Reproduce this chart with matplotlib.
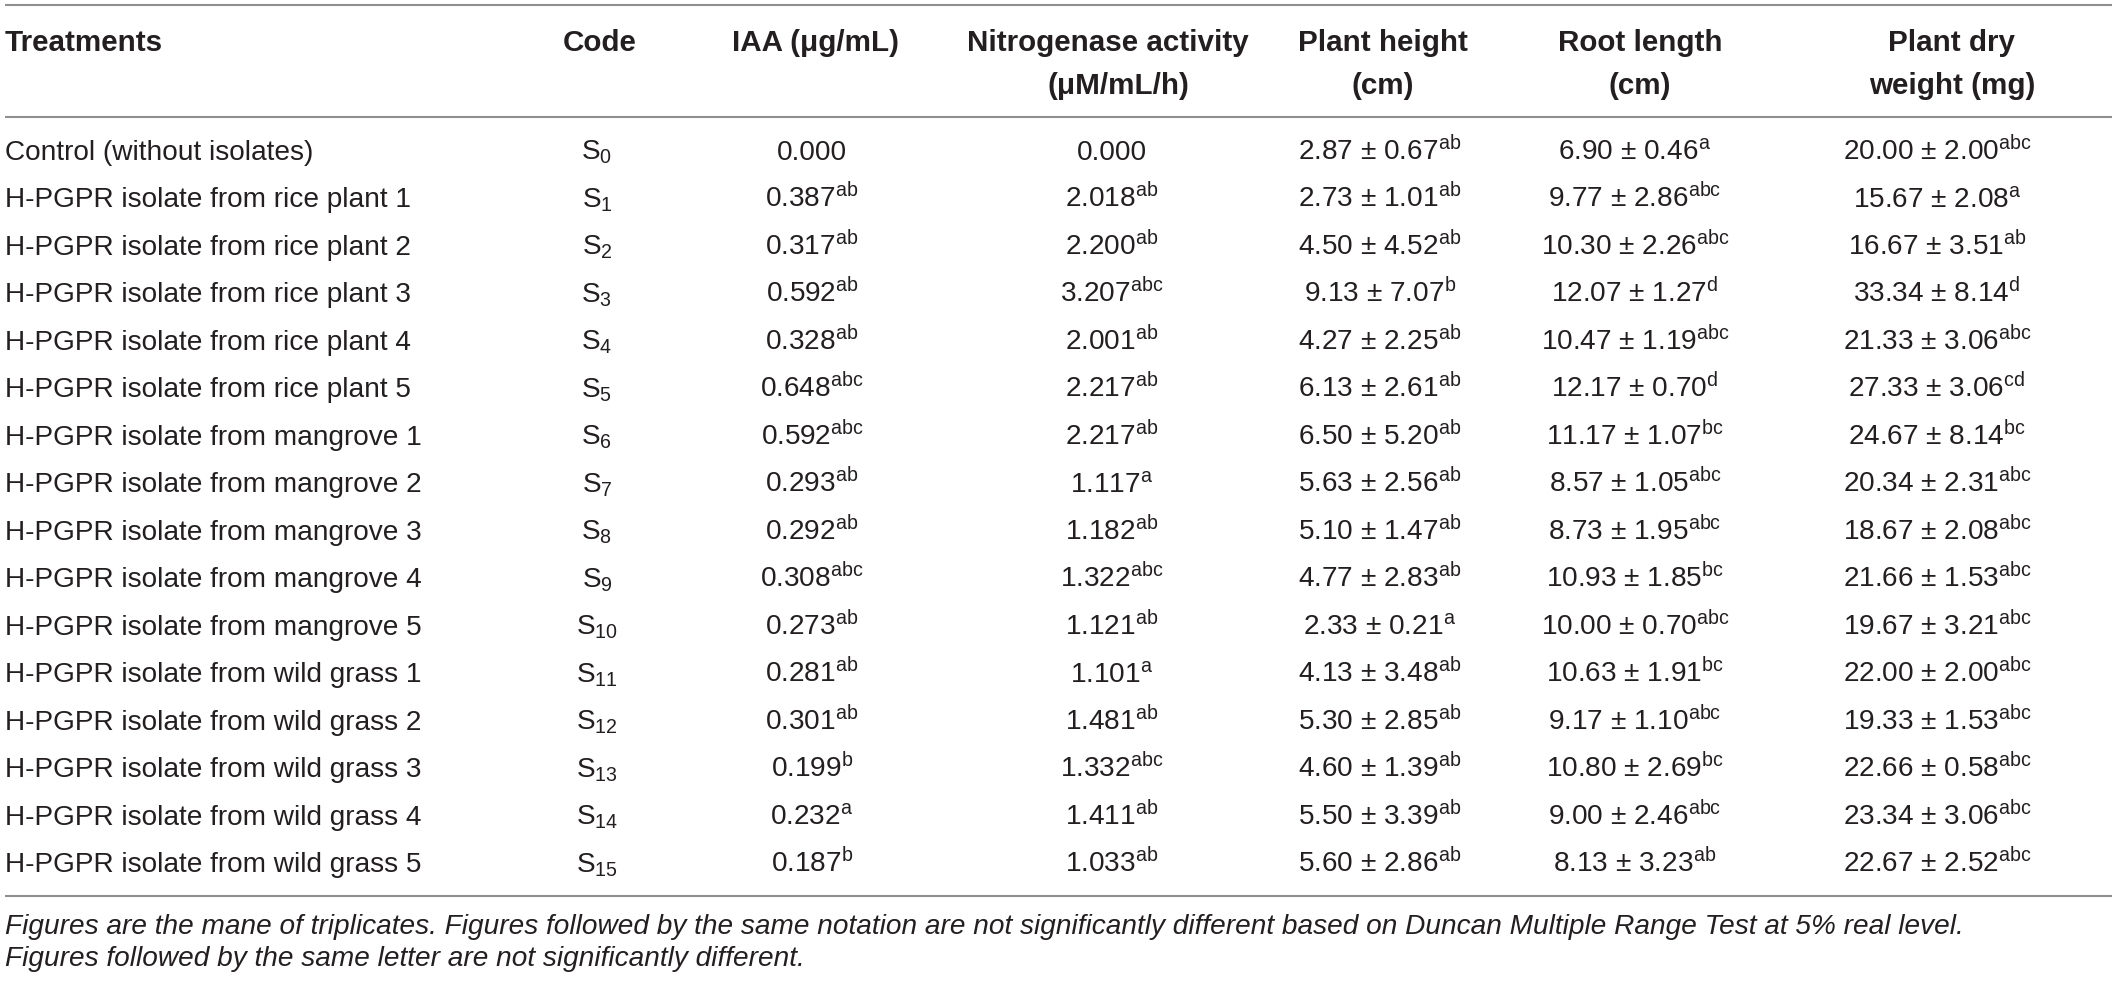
import matplotlib
matplotlib.use("Agg")
import matplotlib.pyplot as plt

# ---------------- table data ----------------
treatments = ["Control (without isolates)"] + \
    [f"H-PGPR isolate from rice plant {i}" for i in range(1, 6)] + \
    [f"H-PGPR isolate from mangrove {i}" for i in range(1, 6)] + \
    [f"H-PGPR isolate from wild grass {i}" for i in range(1, 6)]
codes = list(range(16))

iaa = ["0.000", "0.387", "0.317", "0.592", "0.328", "0.648", "0.592", "0.293",
       "0.292", "0.308", "0.273", "0.281", "0.301", "0.199", "0.232", "0.187"]
iaa_sig = ["", "ab", "ab", "ab", "ab", "abc", "abc", "ab",
           "ab", "abc", "ab", "ab", "ab", "b", "a", "b"]

nitro = ["0.000", "2.018", "2.200", "3.207", "2.001", "2.217", "2.217", "1.117",
         "1.182", "1.322", "1.121", "1.101", "1.481", "1.332", "1.411", "1.033"]
nitro_sig = ["", "ab", "ab", "abc", "ab", "ab", "ab", "a",
             "ab", "abc", "ab", "a", "ab", "abc", "ab", "ab"]

height_mean = ["2.87", "2.73", "4.50", "9.13", "4.27", "6.13", "6.50", "5.63",
               "5.10", "4.77", "2.33", "4.13", "5.30", "4.60", "5.50", "5.60"]
height_sd = ["0.67", "1.01", "4.52", "7.07", "2.25", "2.61", "5.20", "2.56",
             "1.47", "2.83", "0.21", "3.48", "2.85", "1.39", "3.39", "2.86"]
height_sig = ["ab", "ab", "ab", "b", "ab", "ab", "ab", "ab",
              "ab", "ab", "a", "ab", "ab", "ab", "ab", "ab"]

root_mean = ["6.90", "9.77", "10.30", "12.07", "10.47", "12.17", "11.17", "8.57",
             "8.73", "10.93", "10.00", "10.63", "9.17", "10.80", "9.00", "8.13"]
root_sd = ["0.46", "2.86", "2.26", "1.27", "1.19", "0.70", "1.07", "1.05",
           "1.95", "1.85", "0.70", "1.91", "1.10", "2.69", "2.46", "3.23"]
root_sig = ["a", "abc", "abc", "d", "abc", "d", "bc", "abc",
            "abc", "bc", "abc", "bc", "abc", "bc", "abc", "ab"]

dry_mean = ["20.00", "15.67", "16.67", "33.34", "21.33", "27.33", "24.67", "20.34",
            "18.67", "21.66", "19.67", "22.00", "19.33", "22.66", "23.34", "22.67"]
dry_sd = ["2.00", "2.08", "3.51", "8.14", "3.06", "3.06", "8.14", "2.31",
          "2.08", "1.53", "3.21", "2.00", "1.53", "0.58", "3.06", "2.52"]
dry_sig = ["abc", "a", "ab", "d", "abc", "cd", "bc", "abc",
           "abc", "abc", "abc", "abc", "abc", "abc", "abc", "abc"]

headers = [("Treatments", ""), ("Code", ""), ("IAA (\u03bcg/mL)", ""),
           ("Nitrogenase activity", "(\u03bcM/mL/h)"), ("Plant height", "(cm)"),
           ("Root length", "(cm)"), ("Plant dry", "weight (mg)")]

footnotes = ["Figures are the mane of triplicates. Figures followed by the same notation are not "
             "significantly different based on Duncan Multiple Range Test at 5% real level.",
             "Figures followed by the same letter are not significantly different."]

# ---------------- styling ----------------
W, H = 2117, 983
plt.rcParams['font.family'] = ['Liberation Sans', 'DejaVu Sans']
plt.rcParams['mathtext.fontset'] = 'custom'
plt.rcParams['mathtext.rm'] = 'Liberation Sans'
plt.rcParams['mathtext.it'] = 'Liberation Sans:italic'
plt.rcParams['mathtext.bf'] = 'Liberation Sans:bold'

FS = 20.2          # body font size (pt) -> ~28 px
FS_HEAD = 21.3     # header is a touch larger
TXT = '#231f20'
RULE = '#8f8f8f'

# x positions: left edge for the first column, centres for the rest
body_x = [5, 597, 812, 1112, 1380, 1635, 1937]
head_x1 = [5, 600, 816, 1108, 1383, 1640, 1952]
head_x2 = [5, 600, 816, 1118, 1383, 1640, 1952]
row_base0, row_dy = 160, 47.47


def sup(base, letters):
    return base + (r"$^{\mathrm{%s}}$" % letters if letters else "")


fig = plt.figure(figsize=(W / 100, H / 100), dpi=100)
ax = fig.add_axes([0, 0, 1, 1])
ax.set_xlim(0, W)
ax.set_ylim(H, 0)
ax.axis('off')

# rules
for y in (5, 117, 896):
    ax.plot([5, 2112], [y, y], color=RULE, lw=1.5, solid_capstyle='butt')

# header
for j, (l1, l2) in enumerate(headers):
    ha = 'left' if j == 0 else 'center'
    ax.text(head_x1[j], 51, l1, ha=ha, va='baseline', fontsize=FS_HEAD, fontweight='bold', color=TXT)
    if l2:
        ax.text(head_x2[j], 94, l2, ha=ha, va='baseline', fontsize=FS_HEAD, fontweight='bold', color=TXT)

# body
for i in range(len(treatments)):
    y = row_base0 + i * row_dy
    cells = [treatments[i],
             r"S$_{%d}$" % codes[i],
             sup(iaa[i], iaa_sig[i]),
             sup(nitro[i], nitro_sig[i]),
             sup(f"{height_mean[i]} \u00b1 {height_sd[i]}", height_sig[i]),
             sup(f"{root_mean[i]} \u00b1 {root_sd[i]}", root_sig[i]),
             sup(f"{dry_mean[i]} \u00b1 {dry_sd[i]}", dry_sig[i])]
    for j, c in enumerate(cells):
        ha = 'left' if j == 0 else 'center'
        ax.text(body_x[j], y, c, ha=ha, va='baseline', fontsize=FS, color=TXT)

# footnotes
for k, note in enumerate(footnotes):
    ax.text(5, 934 + k * 32, note, ha='left', va='baseline', fontsize=FS,
            style='italic', color=TXT)

fig.savefig('out.png', dpi=100)
plt.close(fig)
